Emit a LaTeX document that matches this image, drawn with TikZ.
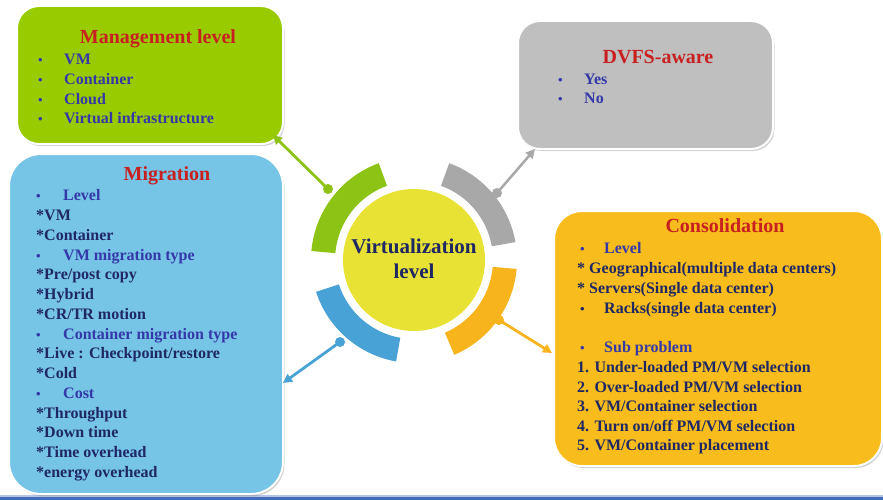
\documentclass[tikz,border=0pt]{standalone}
\usepackage{fontspec}
\setmainfont{Liberation Serif}
\usetikzlibrary{arrows.meta,shadows,calc}
\definecolor{mgreen}{RGB}{153,204,0}
\definecolor{rgreen}{RGB}{140,195,20}
\definecolor{mgrey}{RGB}{191,191,191}
\definecolor{rgrey}{RGB}{168,168,168}
\definecolor{mblue}{RGB}{118,196,230}
\definecolor{rblue}{RGB}{72,162,214}
\definecolor{morange}{RGB}{248,188,28}
\definecolor{rorange}{RGB}{248,180,28}
\definecolor{myellow}{RGB}{232,226,52}
\definecolor{ttlred}{RGB}{200,32,32}
\definecolor{itblue}{RGB}{52,56,168}
\definecolor{itnavy}{RGB}{32,40,100}
\definecolor{bandblue}{RGB}{68,108,188}
\tikzset{
  box/.style={draw=white, line width=2pt, anchor=north west, inner sep=0pt,
    drop shadow={shadow xshift=1.5pt, shadow yshift=-2pt, opacity=0.3, fill=black!60}},
  ttl/.style={font=\fontsize{20}{20}\selectfont\bfseries, text=ttlred, anchor=base, inner sep=0pt},
  itm/.style={font=\fontsize{16}{16}\selectfont\bfseries, anchor=base west, inner sep=0pt},
  bul/.style={font=\fontsize{13}{13}\selectfont\bfseries, anchor=base west, inner sep=0pt},
  conn/.style={line width=2.8pt, -{Triangle[length=9pt,width=9pt]}},
}
\newcommand\ringseg[4]{\fill[#1] ($(vc.center)+(#2:103)$) arc[start angle=#2, end angle=#3, radius=103] -- ($(vc.center)+(#3:#4)$) arc[start angle=#3, end angle=#2, radius=#4] -- cycle;}
\begin{document}
\begin{tikzpicture}[x=1pt,y=-1pt]
\useasboundingbox (0,0) rectangle (883,500);
\fill[white] (0,0) rectangle (883,500);
% bottom band
\fill[bandblue] (0,496.5) rectangle (883,500);
\fill[bandblue!40] (0,495) rectangle (883,496.5);
% boxes
\node[box, fill=mgreen, rounded corners=22pt, minimum width=266pt, minimum height=138pt] (mgmt) at (16,5) {};
\node[box, fill=mgrey, rounded corners=22pt, minimum width=255pt, minimum height=128pt] (dvfs) at (517,20) {};
\node[box, fill=mblue, rounded corners=32pt, minimum width=274pt, minimum height=340pt] (migr) at (8,153) {};
\node[box, fill=morange, rounded corners=28pt, minimum width=328pt, minimum height=255pt] (cons) at (553,210) {};
% center circle
\node[circle, fill=myellow, minimum size=142pt, inner sep=0pt] (vc) at (414,260) {};
\node[font=\fontsize{21}{21}\selectfont\bfseries, text=itnavy, anchor=base, inner sep=0pt] (vt1) at (414,253) {Virtualization};
\node[font=\fontsize{21}{21}\selectfont\bfseries, text=itnavy, anchor=base, inner sep=0pt] (vt2) at (414,278) {level};
% ring segments
\ringseg{rgreen}{-110}{-175}{79}
\ringseg{rgrey}{-10}{-70}{79}
\ringseg{rorange}{67}{5}{79}
\ringseg{rblue}{-198}{-260}{79}
% connectors
\coordinate (gdot) at (328,189); \coordinate (gtip) at (273,135);
\coordinate (ydot) at (497,193); \coordinate (ytip) at (535,149);
\coordinate (odot) at (499,320); \coordinate (otip) at (552,353);
\coordinate (bdot) at (340,342); \coordinate (btip) at (283,383);
\draw[conn, rgreen] (gdot) -- (gtip); \fill[rgreen] (gdot) circle (5);
\draw[conn, rgrey, line width=2.5pt] (ydot) -- (ytip); \fill[rgrey] (ydot) circle (5);
\draw[conn, rorange] (odot) -- (otip); \fill[rorange] (odot) circle (5);
\draw[conn, rblue] (bdot) -- (btip); \fill[rblue] (bdot) circle (5);
% Management text
\node[ttl] (mt) at (158,44) {Management level};
\foreach \y/\t [count=\i] in {65/{VM},85/{Container},105/{Cloud},124/{Virtual infrastructure}}{
  \node[bul, text=itblue] (mb\i) at (38,\y) {\textbullet};
  \node[itm, text=itblue] (mi\i) at (64,\y) {\t};
}
% DVFS text
\node[ttl] (dt) at (658,64) {DVFS-aware};
\foreach \y/\t [count=\i] in {85/{Yes},104/{No}}{
  \node[bul, text=itblue] (db\i) at (558,\y) {\textbullet};
  \node[itm, text=itblue] (di\i) at (584,\y) {\t};
}
% Migration text
\node[ttl] (gt) at (167,180) {Migration};
\foreach \y/\t [count=\i] in {200/{Level},260/{VM migration type},339/{Container migration type},398/{Cost}}{
  \node[bul, text=itblue] (gb\i) at (36,\y) {\textbullet};
  \node[itm, text=itblue] (gh\i) at (63,\y) {\t};
}
\foreach \y/\t [count=\i] in {220/{*VM},240/{*Container},279/{*Pre/post copy},299/{*Hybrid},319/{*CR/TR motion},358/{*Live : Checkpoint/restore},378/{*Cold},418/{*Throughput},437/{*Down time},457/{*Time overhead},477/{*energy overhead}}{
  \node[itm, text=itnavy] (gi\i) at (36,\y) {\t};
}
% Consolidation text
\node[ttl] (ct) at (725,232) {Consolidation};
\node[bul, text=itblue] (cb1) at (580,253) {\textbullet};
\node[itm, text=itblue] (ch1) at (604,253) {Level};
\node[itm, text=itnavy] (ci1) at (577,273) {* Geographical(multiple data centers)};
\node[itm, text=itnavy] (ci2) at (577,293) {* Servers(Single data center)};
\node[bul, text=itnavy] (cb2) at (580,313) {\textbullet};
\node[itm, text=itnavy] (ci3) at (604,313) {Racks(single data center)};
\node[bul, text=itblue] (cb3) at (580,352) {\textbullet};
\node[itm, text=itblue] (ch2) at (604,352) {Sub problem};
\foreach \y/\t [count=\i] in {372/{1. Under-loaded PM/VM selection},392/{2. Over-loaded PM/VM selection},411/{3. VM/Container selection},431/{4. Turn on/off PM/VM selection},450/{5. VM/Container placement}}{
  \node[itm, text=itnavy] (cs\i) at (577,\y) {\t};
}
\end{tikzpicture}
\end{document}
